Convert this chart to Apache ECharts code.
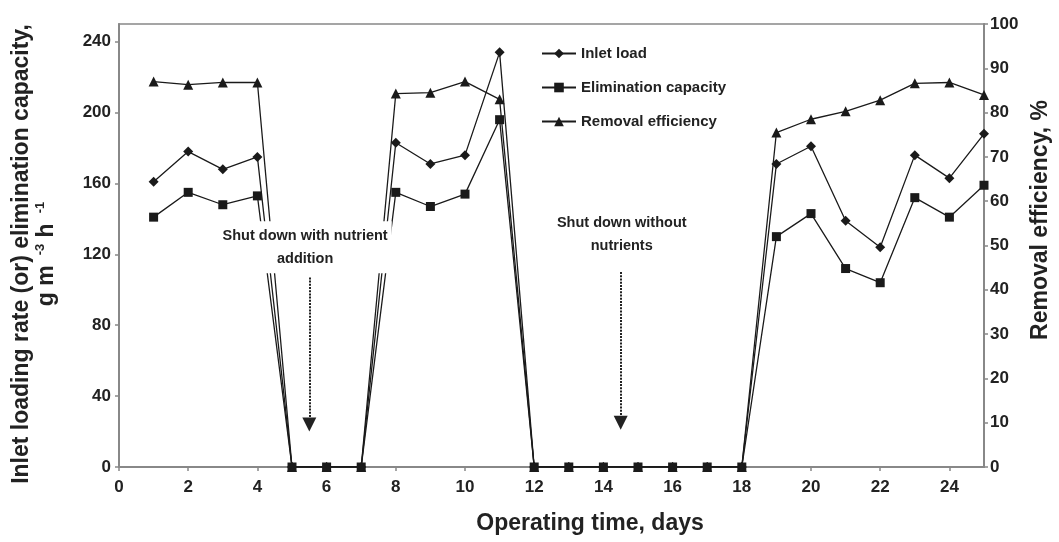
<!DOCTYPE html>
<html>
<head>
<meta charset="utf-8">
<script src="https://cdn.jsdelivr.net/npm/echarts@6/dist/echarts.min.js"></script>
<style>
  html, body { margin: 0; padding: 0; background: #fff; }
  #chart { width: 1059px; height: 542px; }
</style>
</head>
<body>
<div id="chart"></div>
<script>
// ---- Data ----
const days = [1, 2, 3, 4, 5, 6, 7, 8, 9, 10, 11, 12, 13, 14, 15, 16, 17, 18, 19, 20, 21, 22, 23, 24, 25];
const inletLoad = [161, 178, 168, 175, 0, 0, 0, 183, 171, 176, 234, 0, 0, 0, 0, 0, 0, 0, 171, 181, 139, 124, 176, 163, 188];
const eliminationCapacity = [141, 155, 148, 153, 0, 0, 0, 155, 147, 154, 196, 0, 0, 0, 0, 0, 0, 0, 130, 143, 112, 104, 152, 141, 159];
const removalEfficiency = [87, 86.3, 86.8, 86.8, 0, 0, 0, 84.3, 84.5, 87, 83, 0, 0, 0, 0, 0, 0, 0, 75.5, 78.5, 80.3, 82.8, 86.6, 86.8, 84];
const seriesNames = ['Inlet load', 'Elimination capacity', 'Removal efficiency'];
const annotationTexts = ['Shut down with nutrient\naddition', 'Shut down without\nnutrients'];

const pair = (xs, ys) => xs.map((x, i) => [x, ys[i]]);

const FONT = 'Liberation Sans, Arial, sans-serif';
const AXIS_COLOR = '#888';
const LINE_COLOR = '#1a1a1a';
const TITLE_FONT = 'bold 23px ' + FONT;

const chart = echarts.init(document.getElementById('chart'), null, { renderer: 'canvas' });

const lineBase = {
  type: 'line',
  showAllSymbol: true,
  animation: false,
  lineStyle: { color: LINE_COLOR, width: 1.3 },
  itemStyle: { color: LINE_COLOR, borderWidth: 0 },
  emphasis: { disabled: true }
};

const arrowStyle = { color: '#222', width: 2, type: [2, 1.2] };

const option = {
  backgroundColor: '#fff',
  animation: false,
  textStyle: { fontFamily: FONT },
  grid: {
    left: 119, right: 75, top: 24, bottom: 75,
    show: true, borderColor: AXIS_COLOR, borderWidth: 1.5, backgroundColor: 'transparent'
  },
  legend: {
    orient: 'vertical',
    left: 536, top: 41,
    itemWidth: 34, itemHeight: 12, itemGap: 19,
    textStyle: { fontFamily: FONT, fontWeight: 'bold', fontSize: 15, color: '#222' },
    data: seriesNames
  },
  xAxis: {
    type: 'value', min: 0, max: 25, interval: 2,
    axisLine: { show: true, onZero: false, lineStyle: { color: AXIS_COLOR, width: 2 } },
    axisTick: { show: true, length: 4, lineStyle: { color: AXIS_COLOR, width: 1.5 } },
    axisLabel: { showMaxLabel: false, margin: 12, fontFamily: FONT, fontWeight: 'bold', fontSize: 17, color: '#222' },
    splitLine: { show: false }
  },
  yAxis: [
    {
      type: 'value', min: 0, max: 250, interval: 40, position: 'left',
      axisLine: { show: true, lineStyle: { color: AXIS_COLOR, width: 2 } },
      axisTick: { show: true, length: 4, lineStyle: { color: AXIS_COLOR, width: 1.5 } },
      axisLabel: { showMaxLabel: false, margin: 8, fontFamily: FONT, fontWeight: 'bold', fontSize: 17, color: '#222' },
      splitLine: { show: false }
    },
    {
      type: 'value', min: 0, max: 100, interval: 10, position: 'right',
      axisLine: { show: true, lineStyle: { color: AXIS_COLOR, width: 2 } },
      axisTick: { show: true, length: 4, lineStyle: { color: AXIS_COLOR, width: 1.5 } },
      axisLabel: { margin: 6, fontFamily: FONT, fontWeight: 'bold', fontSize: 17, color: '#222' },
      splitLine: { show: false }
    }
  ],
  graphic: [
    {
      type: 'text', x: 34, y: 254, rotation: Math.PI / 2, silent: true,
      style: {
        text: 'Inlet loading rate (or) elimination capacity,\n{b|g m }{s| -3}{b| h }{s| -1}',
        font: TITLE_FONT, fill: '#222', align: 'center', verticalAlign: 'middle', lineHeight: 25,
        rich: {
          b: { font: TITLE_FONT, fill: '#222', lineHeight: 25 },
          s: { font: 'bold 13px ' + FONT, fill: '#222', padding: [0, 0, 13, 0] }
        }
      }
    },
    {
      type: 'text', x: 1041, y: 220, rotation: Math.PI / 2, silent: true,
      style: { text: 'Removal efficiency, %', font: TITLE_FONT, fill: '#222', align: 'center', verticalAlign: 'middle' }
    },
    {
      type: 'text', x: 590, y: 524, silent: true,
      style: { text: 'Operating time, days', font: TITLE_FONT, fill: '#222', align: 'center', verticalAlign: 'middle' }
    }
  ],
  series: [
    Object.assign({}, lineBase, {
      name: seriesNames[0], yAxisIndex: 0, z: 2,
      symbol: 'diamond', symbolSize: 10,
      data: pair(days, inletLoad)
    }),
    Object.assign({}, lineBase, {
      name: seriesNames[1], yAxisIndex: 0, z: 3,
      symbol: 'rect', symbolSize: 9,
      data: pair(days, eliminationCapacity),
      markLine: {
        silent: true, animation: false,
        symbol: ['none', 'triangle'], symbolSize: [14, 14],
        label: { show: false },
        lineStyle: arrowStyle,
        data: [
          [{ coord: [5.5, 107] }, { coord: [5.5, 24] }],
          [{ coord: [14.5, 110] }, { coord: [14.5, 25] }]
        ]
      },
      markPoint: {
        silent: true, animation: false,
        symbol: 'rect', symbolSize: 0,
        label: {
          show: true, position: 'inside', align: 'center', verticalAlign: 'middle',
          fontFamily: FONT, fontWeight: 'bold', fontSize: 14.5, color: '#222', lineHeight: 23,
          backgroundColor: '#fff', padding: [3, 4]
        },
        data: [
          { coord: [5.38, 124], value: 0, label: { formatter: annotationTexts[0] } },
          { coord: [14.53, 131], value: 0, label: { formatter: annotationTexts[1] } }
        ]
      }
    }),
    Object.assign({}, lineBase, {
      name: seriesNames[2], yAxisIndex: 1, z: 2,
      symbol: 'triangle', symbolSize: 10,
      data: pair(days, removalEfficiency)
    })
  ]
};

chart.setOption(option);
</script>
</body>
</html>
